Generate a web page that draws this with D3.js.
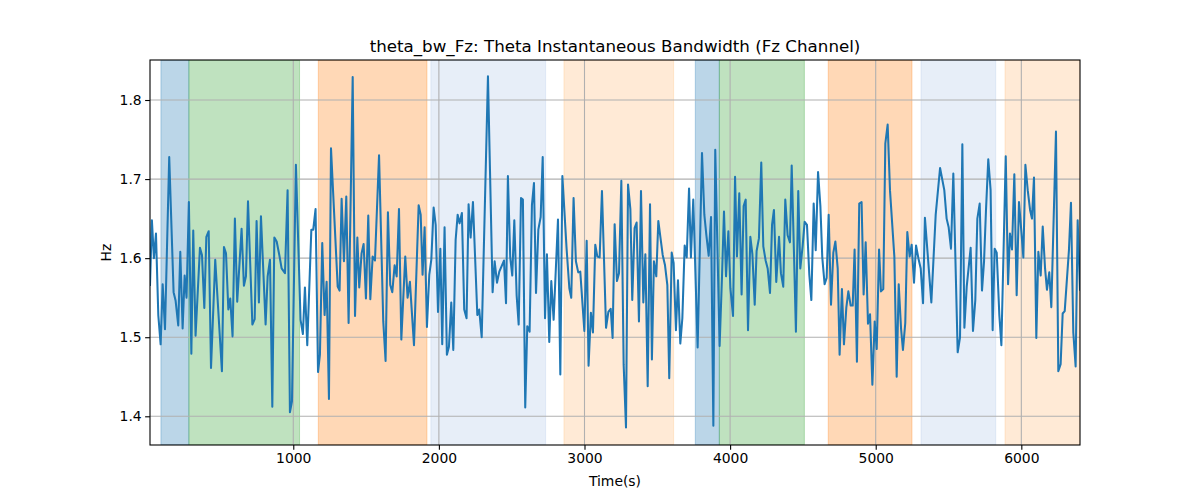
<!DOCTYPE html>
<html><head><meta charset="utf-8">
<script src="https://cdn.jsdelivr.net/npm/d3@7"></script>
<style>body{margin:0;background:#fff}svg{display:block}text{font-family:"DejaVu Sans",sans-serif}</style>
</head><body><svg id="c" width="1200" height="500"></svg>
<script>
const title = "theta_bw_Fz: Theta Instantaneous Bandwidth (Fz Channel)";
const xLabel = "Time(s)";
const yLabel = "Hz";
const xTicks = [1000, 2000, 3000, 4000, 5000, 6000];
const yTicks = [1.4, 1.5, 1.6, 1.7, 1.8];
const xDomain = [16, 6403];
const yDomain = [1.3637, 1.8506];

// shaded stage spans [start, end, colour]
const spanStart = [91, 283, 1172, 1945, 2859, 3761, 3926, 4674, 5311, 5888];
const spanEnd   = [283, 1043, 1918, 2733, 3612, 3926, 4510, 5249, 5824, 6403];
const spanColor = ["#1f77b4", "#2ca02c", "#ff7f0e", "#aec7e8", "#ffbb78",
                   "#1f77b4", "#2ca02c", "#ff7f0e", "#aec7e8", "#ffbb78"];

const times = [16,29,43,57,73,89,103,119,148,178,192,210,224,240,254,267,283,300,313,329,359,373,389,403,419,435,464,510,524,538,554,567,583,599,615,645,661,675,689,719,735,748,764,778,810,824,840,856,870,886,904,920,943,961,977,991,1018,1050,1066,1080,1096,1124,1137,1153,1170,1183,1199,1215,1229,1245,1259,1305,1318,1332,1348,1364,1380,1408,1424,1440,1453,1469,1483,1499,1515,1529,1545,1561,1589,
1618,1634,1650,1666,1680,1696,1710,1726,1742,1769,1785,1801,1829,1861,1875,1888,1902,1918,1934,1948,1964,1978,1994,2010,2023,2039,2055,2069,2085,2099,2115,2129,2142,2158,2174,2190,2204,2218,2234,2264,2277,2294,2337,2369,2383,2399,2415,2447,2461,2474,2490,2504,2518,2534,2548,2564,2577,2593,2607,2623,2639,2653,2667,2683,2699,2713,2729,2742,2758,2772,2788,2818,2834,2848,2877,2896,2909,2925,2941,2957,2971,2999,3015,3028,3044,3058,3074,3088,3104,3120,
3148,3164,3180,3193,3207,3223,3237,3253,3269,3285,3299,3315,3328,3344,3358,3374,3388,3404,3418,3434,3450,3463,3477,3493,3507,3523,3537,3553,3569,3582,3599,3612,3628,3642,3658,3672,3688,3702,3718,3731,3747,3777,3807,3823,3837,3853,3869,3885,3898,3928,3944,3958,3972,3988,4002,4020,4034,4047,4063,4079,4093,4107,4123,4139,4153,4169,4182,4198,4214,4228,4244,4258,4274,4288,4301,4317,4336,4349,4365,4379,4395,4411,4423,4439,4452,4468,4482,4498,4512,4528,4544,4558,4574,4588,4604,4620,4633,4649,4663,4677,4693,4709,4723,4739,
4752,4768,4782,4798,4812,4828,4842,4855,4871,4887,4903,4917,4931,4947,4961,4977,4993,5007,5023,5036,5052,5066,5082,5098,5128,5144,5158,5174,5187,5203,5217,5233,5247,5263,5277,5293,5309,5325,5338,5382,5412,5442,5471,5487,5501,5517,5533,5563,5579,5595,5609,5625,5652,5668,5684,5698,5714,5730,5744,5757,5773,5789,5803,5817,5831,5849,5863,5893,5909,5922,5936,5952,5968,5984,5998,6014,6028,6044,6060,6073,6087,6103,6117,6133,6147,6163,6176,6192,6206,6238,6254,6270,6284,6298,6327,6341,6357,6373,6387,6403];

const values = [1.566,1.648,1.600,1.631,1.528,1.491,1.567,1.510,1.728,1.557,1.546,1.515,1.608,1.511,1.578,1.550,1.671,1.479,1.635,1.502,1.613,1.604,1.537,1.627,1.634,1.461,1.598,1.457,1.614,1.606,1.535,1.549,1.501,1.650,1.545,1.637,1.565,1.577,1.672,1.516,1.523,1.647,1.544,1.653,1.516,1.577,1.598,1.412,1.626,1.621,1.604,1.587,1.581,1.686,1.405,1.419,1.718,1.522,1.504,1.563,1.490,1.636,1.636,1.662,1.456,1.478,1.619,1.528,1.570,1.422,1.739,1.564,1.559,1.675,1.596,1.678,1.518,1.829,1.527,1.626,1.563,1.606,1.618,1.549,1.654,1.548,1.602,1.597,1.730,
1.520,1.470,1.658,1.566,1.557,1.591,1.577,1.662,1.497,1.602,1.550,1.570,1.490,1.667,1.655,1.579,1.639,1.513,1.579,1.598,1.664,1.642,1.532,1.612,1.491,1.639,1.478,1.488,1.544,1.484,1.623,1.655,1.644,1.657,1.535,1.524,1.668,1.626,1.671,1.528,1.535,1.500,1.830,1.557,1.596,1.569,1.583,1.597,1.543,1.704,1.601,1.578,1.648,1.553,1.516,1.676,1.674,1.411,1.514,1.507,1.667,1.695,1.556,1.636,1.652,1.728,1.524,1.605,1.494,1.571,1.522,1.649,1.453,1.704,1.612,1.562,1.550,1.676,1.596,1.582,1.583,1.508,1.622,1.464,1.531,1.506,1.617,1.602,1.601,1.685,
1.512,1.532,1.536,1.499,1.643,1.571,1.581,1.698,1.465,1.386,1.693,1.662,1.547,1.638,1.645,1.520,1.685,1.544,1.605,1.438,1.668,1.472,1.596,1.577,1.647,1.624,1.604,1.591,1.566,1.448,1.607,1.594,1.509,1.572,1.492,1.524,1.616,1.601,1.688,1.601,1.674,1.487,1.733,1.655,1.629,1.603,1.652,1.388,1.737,1.489,1.575,1.659,1.577,1.634,1.562,1.527,1.703,1.602,1.682,1.554,1.666,1.674,1.509,1.627,1.605,1.541,1.609,1.625,1.721,1.615,1.597,1.587,1.556,1.642,1.661,1.570,1.627,1.581,1.564,1.674,1.629,1.620,1.717,1.604,1.507,1.685,1.587,1.615,1.646,1.642,1.579,1.547,1.669,1.610,1.709,1.666,1.601,1.567,1.575,1.655,1.541,1.607,1.621,1.587,
1.478,1.561,1.491,1.537,1.558,1.540,1.540,1.611,1.469,1.669,1.671,1.554,1.620,1.517,1.529,1.440,1.520,1.485,1.611,1.558,1.561,1.745,1.769,1.686,1.602,1.450,1.567,1.511,1.484,1.518,1.633,1.602,1.617,1.569,1.616,1.600,1.587,1.543,1.651,1.544,1.655,1.714,1.686,1.650,1.639,1.612,1.707,1.481,1.500,1.744,1.512,1.564,1.613,1.508,1.547,1.650,1.669,1.559,1.596,1.659,1.725,1.686,1.509,1.612,1.607,1.528,1.490,1.729,1.567,1.631,1.611,1.706,1.553,1.671,1.639,1.601,1.718,1.686,1.661,1.650,1.702,1.499,1.608,1.578,1.640,1.587,1.560,1.582,1.538,1.760,1.457,1.466,1.530,1.533,1.610,1.670,1.506,1.463,1.648,1.560];

const W = 1200, H = 500;
const m = {left: 150, right: 1080, top: 60, bottom: 445};
const svg = d3.select("#c");
const x = d3.scaleLinear().domain(xDomain).range([m.left, m.right]);
const y = d3.scaleLinear().domain(yDomain).range([m.bottom, m.top]);

svg.append("defs").append("clipPath").attr("id", "clip")
  .append("rect").attr("x", m.left).attr("y", m.top)
  .attr("width", m.right - m.left).attr("height", m.bottom - m.top);

// spans
svg.append("g").attr("clip-path", "url(#clip)").selectAll("rect")
  .data(spanStart.map((s, i) => ({s, e: spanEnd[i], c: spanColor[i]})))
  .join("rect")
  .attr("x", d => x(d.s)).attr("width", d => x(d.e) - x(d.s))
  .attr("y", m.top).attr("height", m.bottom - m.top)
  .attr("fill", d => d.c).attr("fill-opacity", 0.3)
  .attr("stroke", d => d.c).attr("stroke-opacity", 0.3).attr("stroke-width", 1);

// grid
const grid = svg.append("g");
grid.selectAll(".gx").data(xTicks).join("line")
  .attr("x1", d => x(d)).attr("x2", d => x(d)).attr("y1", m.top).attr("y2", m.bottom)
  .attr("stroke", "#b0b0b0").attr("stroke-width", 1.1);
grid.selectAll(".gy").data(yTicks).join("line")
  .attr("y1", d => y(d)).attr("y2", d => y(d)).attr("x1", m.left).attr("x2", m.right)
  .attr("stroke", "#b0b0b0").attr("stroke-width", 1.1);

// line
const pts = times.map((t, i) => [t, values[i]]);
svg.append("path").attr("clip-path", "url(#clip)")
  .datum(pts)
  .attr("fill", "none").attr("stroke", "#1f77b4").attr("stroke-width", 2.05)
  .attr("stroke-linejoin", "round").attr("stroke-linecap", "square")
  .attr("d", d3.line().x(d => x(d[0])).y(d => y(d[1])));

// axes
const fs = "13.9px";
const xAxis = svg.append("g").attr("transform", `translate(0,${m.bottom})`)
  .call(d3.axisBottom(x).tickValues(xTicks).tickSize(4.86).tickPadding(3.5).tickFormat(d3.format("d")));
const yAxis = svg.append("g").attr("transform", `translate(${m.left},0)`)
  .call(d3.axisLeft(y).tickValues(yTicks).tickSize(4.86).tickPadding(3.5).tickFormat(d3.format(".1f")));
[xAxis, yAxis].forEach(a => {
  a.select(".domain").remove();
  a.selectAll(".tick line").attr("stroke", "#000").attr("stroke-width", 1.1);
  a.selectAll(".tick text").attr("fill", "#000").style("font-size", fs).style("font-family", "DejaVu Sans");
});

// spines
svg.append("rect").attr("x", m.left).attr("y", m.top)
  .attr("width", m.right - m.left).attr("height", m.bottom - m.top)
  .attr("fill", "none").attr("stroke", "#000").attr("stroke-width", 1.1);

// labels
svg.append("text").attr("x", (m.left + m.right) / 2).attr("y", 52)
  .attr("text-anchor", "middle").style("font-size", "16.7px").text(title);
svg.append("text").attr("x", (m.left + m.right) / 2).attr("y", 486)
  .attr("text-anchor", "middle").style("font-size", fs).text(xLabel);
svg.append("text").attr("transform", `translate(111,${(m.top + m.bottom) / 2}) rotate(-90)`)
  .attr("text-anchor", "middle").style("font-size", fs).text(yLabel);
</script></body></html>
